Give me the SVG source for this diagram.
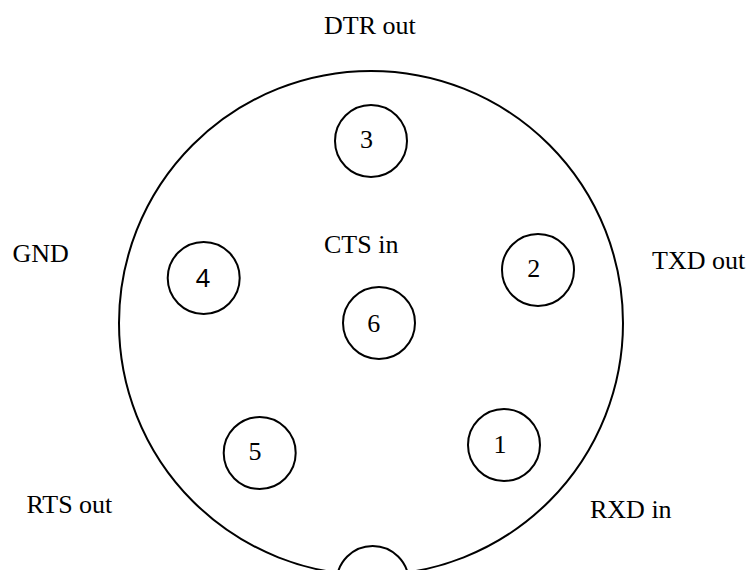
<svg xmlns="http://www.w3.org/2000/svg" width="751" height="570" viewBox="0 0 751 570">
<style>
.c{fill:#fff;stroke:#000;stroke-width:2}
.t{font-family:"Liberation Serif","Times New Roman",serif;font-size:26px;fill:#000}
.d{font-family:"Liberation Serif","Times New Roman",serif;font-size:26px;fill:#000;text-anchor:middle}
.s{font-family:"Noto Sans","DejaVu Sans",sans-serif;font-size:25px;fill:#000;text-anchor:middle}
</style>
<rect width="751" height="570" fill="#fff"/>
<g id="connector">
<circle class="c" cx="371" cy="323" r="252"/>
</g>
<g id="pin3"><circle class="c" cx="371" cy="141" r="36"/><text class="d" x="366.5" y="148">3</text></g>
<g id="pin2"><circle class="c" cx="538" cy="270" r="36"/><text class="d" x="533.7" y="277">2</text></g>
<g id="pin4"><circle class="c" cx="203.7" cy="278" r="36"/><text class="s" x="203" y="287">4</text></g>
<g id="pin6"><circle class="c" cx="379" cy="323" r="36"/><text class="d" x="373.7" y="331.5">6</text></g>
<g id="pin5"><circle class="c" cx="259.7" cy="453" r="36"/><text class="d" x="255" y="460">5</text></g>
<g id="pin1"><circle class="c" cx="504" cy="445" r="36"/><text class="d" x="500" y="452.5">1</text></g>
<g id="pin7"><circle class="c" cx="372.7" cy="582" r="36"/></g>
<g id="labels">
<text class="t" x="324" y="34">DTR out</text>
<text class="t" x="324" y="253">CTS in</text>
<text class="t" x="652" y="269">TXD out</text>
<text class="t" x="12.5" y="262">GND</text>
<text class="t" x="26.5" y="513">RTS out</text>
<text class="t" x="590" y="518">RXD in</text>
</g>
</svg>
